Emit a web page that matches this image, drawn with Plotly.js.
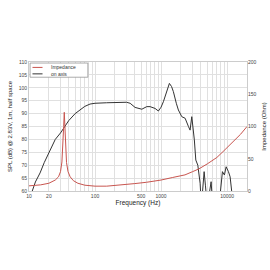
<!DOCTYPE html>
<html><head><meta charset="utf-8">
<script src="https://cdn.plot.ly/plotly-3.0.1.min.js"></script>
<style>html,body{margin:0;padding:0;background:#fff}#c{width:270px;height:270px}</style>
</head><body><div id="c"></div>
<script>
// SPL on-axis response (dB)
const splFreq = [10.5, 11.2, 12.5, 14.7, 17, 20, 25, 30, 35, 40, 50, 59, 70, 84, 100, 150, 200, 300, 340, 370, 404, 511, 607, 681, 811, 910, 1000, 1084, 1200, 1336, 1440, 1536, 1700, 1828, 2060, 2311, 2596, 2750, 2916, 3083, 3190, 3357, 3600, 3900, 4040, 4250, 4487, 4700, 4923, 5300, 5724, 5990, 7000, 7800, 8490, 9100, 9660, 10470, 11100, 12190];
const splDb = [57, 60, 63.5, 67, 71, 75, 80, 82.5, 85, 87.3, 90, 91.5, 92.8, 93.7, 94.0, 94.2, 94.3, 94.4, 94.0, 93.3, 92.4, 91.7, 92.7, 92.7, 92.0, 91.0, 92.5, 94.6, 98, 101.7, 100.5, 98.5, 94, 91.4, 88.8, 88.2, 85, 83.6, 88.8, 83.6, 79.8, 72, 70, 63, 56, 60, 67.5, 62, 56, 58, 63.6, 56, 55, 58, 67.5, 66.2, 69.4, 67.5, 65.5, 56];
// Impedance (Ohm)
const impFreq = [10, 15, 20, 25, 28, 30, 31.5, 32.5, 33.5, 34.2, 35, 36, 37, 39, 42, 47, 55, 70, 100, 150, 200, 300, 400, 600, 1000, 1500, 2300, 3000, 3700, 5000, 7000, 8650, 10000, 13000, 16000, 20000];
const impOhm = [8, 9.5, 12, 17, 22, 30, 45, 65, 100, 122, 98, 62, 44, 30, 22, 16, 12, 9, 7.5, 7.5, 8.5, 10, 11.5, 13.5, 17, 21, 25, 30, 34, 42, 52, 61, 67, 78, 88, 100];
// series names and colours
const seriesNames = ["Impedance", "on axis"];
const seriesColors = ["#c8554f", "#333333"];
// x-axis tick labels
const xLabels = {10: "10", 20: "20", 100: "100", 500: "500", 1000: "1000", 10000: "10000"};
const gridVals = [];
for (const d of [10, 100, 1000, 10000]) for (let m = 1; m <= 9; m++) { const v = d * m; if (v <= 20000) gridVals.push(v); }
gridVals.push(20000);
const gridText = gridVals.map(v => xLabels[v] || "");

const font = "Liberation Sans, Arial, sans-serif";
const data = [
  {x: impFreq, y: impOhm, yaxis: "y2", type: "scatter", mode: "lines", name: seriesNames[0],
   line: {color: seriesColors[0], width: 1}},
  {x: splFreq, y: splDb, type: "scatter", mode: "lines", name: seriesNames[1],
   line: {color: seriesColors[1], width: 1}}
];
// compact legend box drawn in paper coordinates
const legY = [0.958, 0.908];
const shapes = [{type: "rect", xref: "paper", yref: "paper", x0: 0.005, x1: 0.27, y0: 0.882, y1: 0.992,
  line: {color: "#888", width: 0.7}, fillcolor: "#fff", layer: "above"}];
const annotations = [];
seriesNames.forEach((n, i) => {
  shapes.push({type: "line", xref: "paper", yref: "paper", x0: 0.016, x1: 0.062, y0: legY[i], y1: legY[i],
    line: {color: seriesColors[i], width: 1}, layer: "above"});
  annotations.push({xref: "paper", yref: "paper", x: 0.09, y: legY[i], xanchor: "left", yanchor: "middle",
    text: n, showarrow: false, font: {size: 5, color: "#333"}});
});
const layout = {
  width: 270, height: 270,
  margin: {l: 29, r: 23, t: 62, b: 79},
  paper_bgcolor: "#fff", plot_bgcolor: "#fff",
  font: {family: font, size: 5, color: "#333"},
  showlegend: false,
  shapes: shapes, annotations: annotations,
  xaxis: {type: "log", range: [1, Math.log10(20000)], tickvals: gridVals, ticktext: gridText,
    showgrid: true, gridcolor: "#e0e0e0", gridwidth: 1, ticks: "", tickfont: {size: 5, color: "#444"},
    showline: true, mirror: true, linecolor: "#cccccc", linewidth: 1, zeroline: false,
    title: {text: "Frequency (Hz)", font: {size: 6.5, color: "#222"}, standoff: 2}},
  yaxis: {range: [60, 110], dtick: 5, tick0: 60, showgrid: true, gridcolor: "#e0e0e0", gridwidth: 1,
    ticks: "", tickfont: {size: 5, color: "#444"}, showline: true, mirror: true, linecolor: "#cccccc",
    linewidth: 1, zeroline: false,
    title: {text: "SPL (dB) @ 2.83V, 1m, half space", font: {size: 6, color: "#222"}, standoff: 5}},
  yaxis2: {range: [0, 200], dtick: 50, tick0: 0, overlaying: "y", side: "right", showgrid: false,
    ticks: "", tickfont: {size: 5, color: "#444"}, zeroline: false, showline: false,
    title: {text: "Impedance (Ohm)", font: {size: 6, color: "#222"}, standoff: 6}}
};
Plotly.newPlot("c", data, layout, {staticPlot: true, displayModeBar: false});
</script></body></html>
